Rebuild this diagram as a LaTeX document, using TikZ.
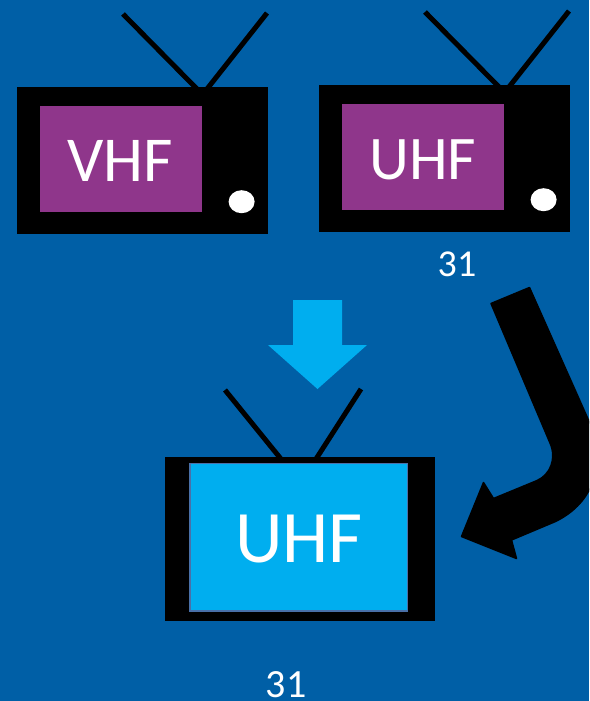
\documentclass[tikz,border=0pt]{standalone}
\usepackage{fontspec}
\setmainfont{Carlito}
\definecolor{bgblue}{HTML}{005FA6}
\definecolor{screenpurple}{HTML}{8F368B}
\definecolor{screencyan}{HTML}{00AEEF}
\definecolor{screenedge}{HTML}{4A70A8}
\tikzset{
  tvbody/.style={fill=black,draw=none},
  purplescreen/.style={fill=screenpurple,draw=none},
  cyanscreen/.style={fill=screencyan,draw=screenedge,line width=1.2pt},
  knob/.style={fill=white,draw=none},
  aerial/.style={draw=black,line width=5pt},
  tvlabel/.style={text=white,inner sep=0pt,anchor=base},
}
\begin{document}
\begin{tikzpicture}[x=1pt,y=-1pt]
\useasboundingbox (0,0) rectangle (589,701);
\clip (0,0) rectangle (589,701);
\fill[bgblue] (0,0) rectangle (589,701);

% left TV
\coordinate (a1) at (123,14);
\coordinate (a2) at (197,89);
\coordinate (a3) at (267,13);
\coordinate (a4) at (207,89);
\draw[aerial] (a1) -- (a2);
\draw[aerial] (a3) -- (a4);
\fill[tvbody] (17,87) rectangle (268,234);
\fill[purplescreen] (40,106) rectangle (202,212);
\fill[knob] (241.6,201.7) ellipse [x radius=13,y radius=11.5];
\node[tvlabel,font=\fontsize{64}{64}\selectfont] (vhf) at (120.5,181) {VHF};

% right TV
\coordinate (b1) at (425,12);
\coordinate (b2) at (499,87);
\coordinate (b3) at (569,11);
\coordinate (b4) at (509,87);
\draw[aerial] (b1) -- (b2);
\draw[aerial] (b3) -- (b4);
\fill[tvbody] (319,85) rectangle (570,232);
\fill[purplescreen] (342,104) rectangle (504,210);
\fill[knob] (543.6,199.7) ellipse [x radius=13,y radius=11.5];
\node[tvlabel,font=\fontsize{62}{62}\selectfont] (uhfa) at (423,179) {UHF};
\node[tvlabel,font=\fontsize{38}{38}\selectfont] (cha) at (457,276) {31};

% down arrow
\fill[screencyan] (293,300) -- (342,300) -- (342,345) -- (367,345) -- (317.5,389) -- (268,345) -- (293,345) -- cycle;

% bottom TV
\coordinate (c1) at (225,390);
\coordinate (c2) at (281,459);
\coordinate (c3) at (361,389);
\coordinate (c4) at (316,459);
\draw[aerial] (c1) -- (c2);
\draw[aerial] (c3) -- (c4);
\fill[tvbody] (165,457) rectangle (435,621);
\filldraw[cyanscreen] (190,463.5) rectangle (407.5,611);
\node[tvlabel,font=\fontsize{74}{74}\selectfont] (uhfb) at (299,562.5) {UHF};
\node[tvlabel,font=\fontsize{40}{40}\selectfont] (chb) at (286,697.5) {31};

% bent black arrow
\filldraw[black,line width=1.5pt,line join=round]
  (491,303.5) -- (529.5,287.5) -- (592,428)
  .. controls (606,470) and (590,505) .. (555,521.7)
  -- (511.5,540) -- (516.5,558.5) -- (461.5,536.5) -- (483.5,482.5) -- (493.5,498.5)
  -- (536.7,480.7)
  .. controls (550,475) and (557,459) .. (550,443)
  -- cycle;
\end{tikzpicture}
\end{document}
